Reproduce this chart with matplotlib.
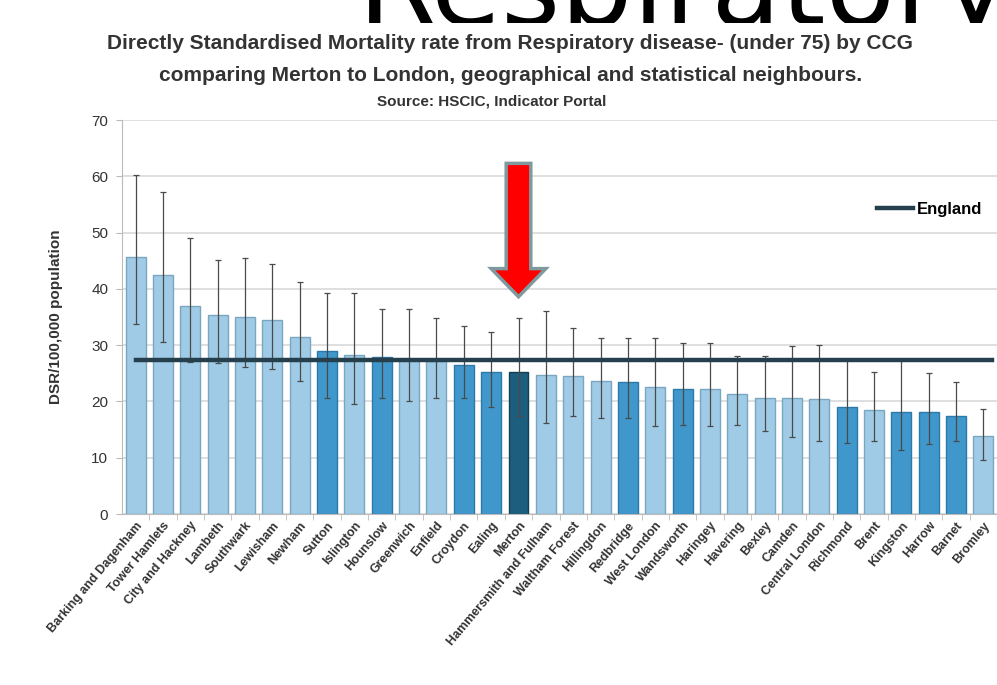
import matplotlib.pyplot as plt
from matplotlib.patches import FancyArrow, Rectangle

plt.rcParams['font.family'] = ['Liberation Sans', 'DejaVu Sans']

# CCGs, DSR values and 95% confidence limits
ccgs = ["Barking and Dagenham", "Tower Hamlets", "City and Hackney", "Lambeth",
        "Southwark", "Lewisham", "Newham", "Sutton", "Islington", "Hounslow",
        "Greenwich", "Enfield", "Croydon", "Ealing", "Merton",
        "Hammersmith and Fulham", "Waltham Forest", "Hillingdon", "Redbridge",
        "West London", "Wandsworth", "Haringey", "Havering", "Bexley", "Camden",
        "Central London", "Richmond", "Brent", "Kingston", "Harrow", "Barnet",
        "Bromley"]
dsr = [45.6, 42.5, 37.0, 35.3, 35.0, 34.4, 31.5, 29.0, 28.3, 27.9,
       27.3, 27.1, 26.4, 25.2, 25.2, 24.7, 24.5, 23.7, 23.4, 22.5,
       22.2, 22.2, 21.3, 20.7, 20.6, 20.4, 19.0, 18.5, 18.2, 18.1,
       17.5, 13.8]
ci_upper = [60.2, 57.2, 49.0, 45.2, 45.5, 44.5, 41.2, 39.3, 39.3, 36.5,
            36.5, 34.9, 33.4, 32.3, 34.9, 36.0, 33.1, 31.2, 31.3, 31.3,
            30.3, 30.3, 28.0, 28.0, 29.8, 30.1, 27.3, 25.3, 27.3, 25.1,
            23.4, 18.7]
ci_lower = [33.8, 30.6, 27.0, 26.8, 26.1, 25.8, 23.6, 20.6, 19.6, 20.7,
            20.0, 20.7, 20.6, 19.1, 17.4, 16.2, 17.5, 17.1, 17.1, 15.7,
            15.8, 15.7, 15.8, 14.8, 13.6, 13.0, 12.6, 13.0, 11.4, 12.4,
            13.0, 9.6]
# group of each CCG: 0 = statistical neighbour, 1 = geographical, 2 = Merton
group = [0, 0, 0, 0, 0, 0, 0, 1, 0, 1,
         0, 0, 1, 1, 2, 0, 0, 0, 1, 0,
         1, 0, 0, 0, 0, 0, 1, 0, 1, 1,
         1, 0]
england = 27.4
merton_idx = ccgs.index("Merton")

palette = {0: "#9fcbe6", 1: "#3f97cc", 2: "#1d5e7e"}
edges = {0: "#7aa6bf", 1: "#2c7aa8", 2: "#123f55"}

fig = plt.figure(figsize=(9.97, 6.85), dpi=100)
ax = fig.add_axes([0.1224, 0.2496, 0.8776, 0.5752])
ax.set_zorder(2)

x = list(range(len(ccgs)))
yerr = [[d - lo for d, lo in zip(dsr, ci_lower)],
        [hi - d for d, hi in zip(dsr, ci_upper)]]
ax.bar(x, dsr, width=0.73, color=[palette[g] for g in group],
       edgecolor=[edges[g] for g in group], linewidth=1.0, zorder=2)
ax.errorbar(x, dsr, yerr=yerr, fmt="none", ecolor="#4a4a4a", elinewidth=0.9,
            capsize=2.5, capthick=0.9, zorder=3)
ax.plot([x[0], x[-1] + 0.3], [england, england], color="#263f4c", lw=3.2,
        zorder=4, label="England")

# red arrow pointing at Merton
arrow = FancyArrow(merton_idx, 62.3, 0, -(62.3 - 38.6), width=0.9,
                   head_width=2.0, head_length=5.0, length_includes_head=True,
                   facecolor="#ff0000", edgecolor="#7f9a9e", linewidth=2.5,
                   zorder=6)
ax.add_patch(arrow)

ax.set_xlim(-0.5, 31.2)
ax.set_ylim(0, 70)
ax.set_yticks(range(0, 71, 10))
ax.yaxis.grid(True, color="#d9d9d9", lw=1.2, zorder=0)
ax.set_axisbelow(True)
ax.set_xticks(x)
ax.set_xticklabels(ccgs, rotation=50, ha="right", rotation_mode="anchor",
                   fontsize=9, fontweight="bold", color="#333333")
ax.tick_params(axis="x", length=0, pad=4)
ax.set_xticks([i + 0.5 for i in x], minor=True)
ax.tick_params(axis="x", which="minor", length=4, color="#bbbbbb")
ax.tick_params(axis="y", length=4, color="#bbbbbb", labelsize=11,
               labelcolor="#333333", pad=6)
for s in ["top", "right"]:
    ax.spines[s].set_visible(False)
ax.spines["left"].set_color("#bbbbbb")
ax.spines["bottom"].set_color("#bbbbbb")
ax.set_ylabel("DSR/100,000 population", fontsize=11, fontweight="bold",
              color="#333333", labelpad=20)

ax.legend(loc="upper right", bbox_to_anchor=(1.0, 0.83), frameon=False,
          handlelength=2.2, handletextpad=0.2,
          prop={"weight": "bold", "size": 12})

fig.text(0.511, 0.937, "Directly Standardised Mortality rate from Respiratory "
         "disease- (under 75) by CCG", ha="center", va="center",
         fontsize=15, fontweight="bold", color="#333333", zorder=3)
fig.text(0.512, 0.890, "comparing Merton to London, geographical and "
         "statistical neighbours.", ha="center", va="center",
         fontsize=15, fontweight="bold", color="#333333", zorder=3)
fig.text(0.493, 0.852, "Source: HSCIC, Indicator Portal", ha="center",
         va="center", fontsize=11, fontweight="bold", color="#333333",
         zorder=3)

# large heading cut off by the top of the picture, lower edge hidden
big = fig.text(0.686, 1 - 25 / 685, "Respiratory", ha="center",
               va="baseline", fontsize=82, color="black",
               family="DejaVu Sans", zorder=0.5)
big.set_clip_path(Rectangle((0, 1 - 23 / 685), 1, 23 / 685,
                            transform=fig.transFigure))

fig.savefig("out.png", dpi=100)
